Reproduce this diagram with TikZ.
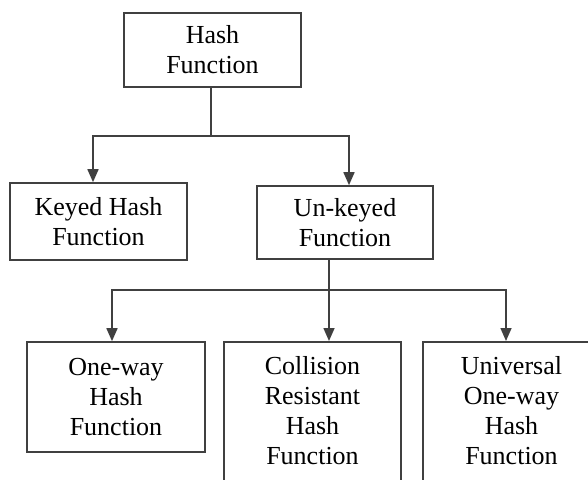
\documentclass[tikz,border=0pt]{standalone}
\usepackage{fontspec}
\setmainfont{Liberation Serif}
\usetikzlibrary{arrows.meta}

\begin{document}
\begin{tikzpicture}[x=0.5pt, y=-0.5pt,
    box/.style={shape=rectangle, draw=black!75, line width=0.8pt, align=center,
                font=\fontsize{13}{15}\selectfont, minimum width=88.5pt},
    arr/.style={draw=black!75, line width=0.8pt, -{Triangle[width=5.5pt, length=6.5pt]}},
    lin/.style={draw=black!75, line width=0.8pt}]
                \useasboundingbox (0, 0) rectangle (588, 480);
                \clip (0, 0) rectangle (588, 480);
                \node[box, minimum height=37pt] (A) at (212.5, 50) {Hash\\Function};
                \node[box, minimum height=38.5pt] (B) at (98.5, 221.5) {Keyed Hash\\Function};
                \node[box, minimum height=36.5pt, minimum width=88pt] (C) at (345, 222.5) {Un-keyed\\Function};
                \node[box, minimum height=55pt, minimum width=89pt] (D) at (116, 397) {One-way\\Hash\\Function};
                \node[box, anchor=north, inner ysep=7.3pt, text depth=60pt] (E) at (312.5, 341) {Collision\\Resistant\\Hash\\Function};
                \node[box, anchor=north, inner ysep=7.3pt, text depth=60pt] (F) at (511.5, 341) {Universal\\One-way\\Hash\\Function};
                \coordinate (J1) at (211, 136);
                \coordinate (J2) at (329, 290);
                \path[lin] (A.south -| J1) -- (J1);
                \path[arr] (J1) -| ([xshift=-2.75pt]B.north);
                \path[arr] (J1) -| ([xshift=2pt]C.north);
                \path[lin] (C.south -| J2) -- (J2);
                \path[arr] (J2) -| ([xshift=-2pt]D.north);
                \path[arr] (J2) -- (E.north -| J2);
                \path[arr] (J2) -| ([xshift=-2.75pt]F.north);
\end{tikzpicture}
\end{document}
